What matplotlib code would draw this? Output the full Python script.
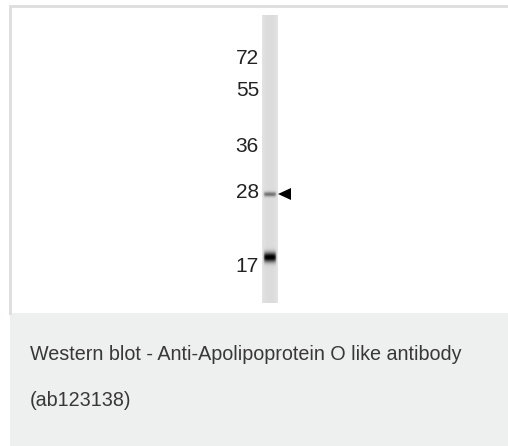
import numpy as np
import matplotlib.pyplot as plt
from matplotlib.patches import Rectangle, Polygon

# molecular weight ladder (kDa) and the image row of each marker
mw_labels = ["72", "55", "36", "28", "17"]
mw_rows = [59, 91, 146, 193, 267]

# detected bands: image row and darkness (0..1)
band_rows = [194, 257]
band_strength = [0.45, 0.95]
band_height = [1.6, 3.4]

caption_lines = ["Western blot - Anti-Apolipoprotein O like antibody", "(ab123138)"]

W, H = 508, 446
fig = plt.figure(figsize=(W / 100, H / 100), dpi=100)
ax = fig.add_axes([0, 0, 1, 1])
ax.set_xlim(0, W)
ax.set_ylim(H, 0)
ax.axis("off")

# white image panel with its grey frame, caption box below
ax.add_patch(Rectangle((10, 5), W - 10, 308, facecolor="white", edgecolor="none"))
ax.plot([10, 10, W], [313, 5.5, 5.5], color="#dddddd", lw=2, solid_joinstyle="miter")
ax.add_patch(Rectangle((10, 313), W - 10, H - 313, facecolor="#eeefef", edgecolor="none"))

# the lane, built as a small greyscale picture
lane_top, lane_bot, lane_l, lane_r = 15, 303, 262, 278
rows = np.arange(lane_top, lane_bot, 0.5)
cols = np.linspace(-1, 1, 40)
img = np.full((len(rows), len(cols)), 0.89)
img -= 0.03 * (1 - cols[None, :] ** 2)
for r, s, h in zip(band_rows, band_strength, band_height):
    prof = np.exp(-0.5 * ((rows - r) / h) ** 2)
    width = np.clip(1 - (cols / 0.85) ** 6, 0, 1)
    img -= s * 0.95 * prof[:, None] * width[None, :]
img = np.clip(img, 0, 1)
ax.imshow(img, cmap="gray", vmin=0, vmax=1, extent=[lane_l, lane_r, lane_bot, lane_top],
          aspect="auto", interpolation="bilinear", zorder=2)

for lab, r in zip(mw_labels, mw_rows):
    ax.text(259, r, lab, ha="right", va="center", fontsize=15,
            family="Liberation Sans", color="#222222")

# arrowhead pointing at the 28 kDa band
ay = band_rows[0]
ax.add_patch(Polygon([[278, ay], [291, ay - 6], [291, ay + 6]], closed=True,
                     facecolor="black", edgecolor="none", zorder=3))

for line, y in zip(caption_lines, [355, 400]):
    ax.text(30, y, line, ha="left", va="center", fontsize=14.2,
            family="Liberation Sans", color="#383838")

fig.savefig("out.png", dpi=100)
